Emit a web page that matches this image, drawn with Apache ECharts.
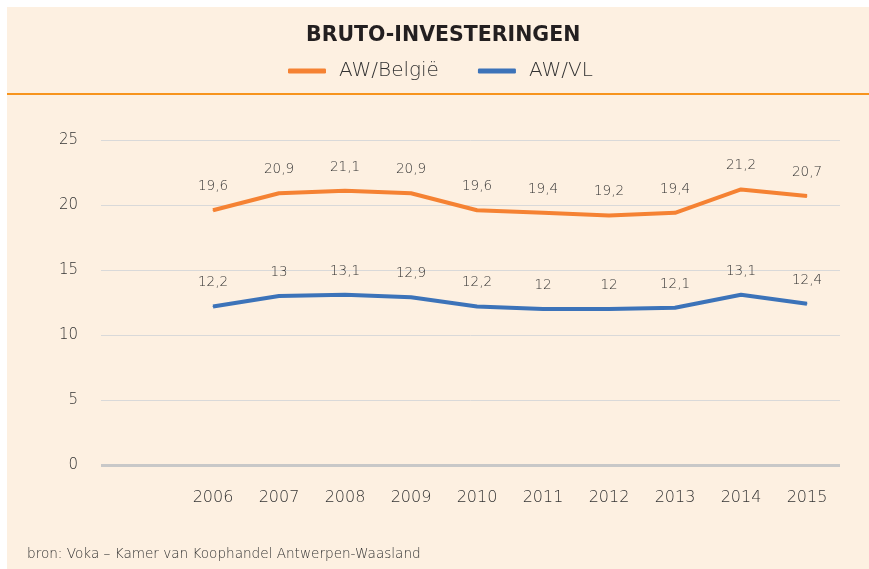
<!DOCTYPE html>
<html>
<head>
<meta charset="utf-8">
<script src="https://cdn.jsdelivr.net/npm/echarts@6/dist/echarts.min.js"></script>
<style>
    body { margin: 0; background: #fff; }
    #chart { width: 869px; height: 569px; }
</style>
</head>
<body>
<div id="chart"></div>
<script>
    // data
    var years = ['2006', '2007', '2008', '2009', '2010', '2011', '2012', '2013', '2014', '2015'];
    var awBelgie = [19.6, 20.9, 21.1, 20.9, 19.6, 19.4, 19.2, 19.4, 21.2, 20.7];
    var awVL = [12.2, 13, 13.1, 12.9, 12.2, 12, 12, 12.1, 13.1, 12.4];
    var seriesNames = ['AW/België', 'AW/VL'];

    var txt = '#333';
    var font = '"DejaVu Sans", sans-serif';

    function comma(p) {
        return String(p.value).replace('.', ',');
    }

    var chart = echarts.init(document.getElementById('chart'));
    chart.setOption({
        animation: false,
        textStyle: { fontFamily: font, fontWeight: 200 },
        graphic: [
            // achtergrondpaneel + oranje scheidingslijn
            { type: 'rect', z: -10, shape: { x: 7, y: 7, width: 862, height: 562 }, style: { fill: '#fdf0e1' } },
            { type: 'rect', z: -9, shape: { x: 7, y: 93, width: 862, height: 2 }, style: { fill: '#f7941d' } },
            { type: 'text', left: 27, top: 547,
              style: { text: 'bron: Voka \u2013 Kamer van Koophandel Antwerpen-Waasland', fill: '#333', font: '200 13.6px ' + font } }
        ],
        title: {
            text: 'BRUTO-INVESTERINGEN',
            left: 301,
            top: 20,
            textStyle: { fontSize: 20.5, fontWeight: 'bold', color: '#231f20', fontFamily: font }
        },
        legend: {
            data: seriesNames,
            top: 61,
            left: 288,
            padding: 0,
            itemGap: 39,
            itemWidth: 38,
            itemHeight: 5,
            icon: 'roundRect',
            textStyle: { fontSize: 20, color: txt, fontWeight: 200, padding: [0, 0, 0, 8] }
        },
        grid: [
            { left: 101, right: 29, top: 140, bottom: 104 },
            { left: 180, right: 29, top: 140, bottom: 104 }
        ],
        xAxis: [
            { gridIndex: 0, type: 'category', data: [''], show: false },
            {
                gridIndex: 1, type: 'category', data: years,
                axisLine: { show: false },
                axisTick: { show: false },
                axisLabel: { color: txt, fontSize: 16, fontWeight: 200, margin: 25 }
            }
        ],
        yAxis: [
            {
                gridIndex: 0, type: 'value', min: 0, max: 25, interval: 5,
                axisLine: { show: false },
                axisTick: { show: false },
                axisLabel: { color: txt, fontSize: 15, fontWeight: 200, margin: 23, padding: [4, 0, 0, 0] },
                splitLine: { lineStyle: { color: '#d9d9d9', width: 1 } }
            },
            { gridIndex: 1, type: 'value', min: 0, max: 25, interval: 5, show: false, splitLine: { show: false } }
        ],
        series: [
            {
                name: seriesNames[0], type: 'line', xAxisIndex: 1, yAxisIndex: 1,
                data: awBelgie, symbol: 'circle', symbolSize: 1, showSymbol: true,
                itemStyle: { color: '#f58233' },
                lineStyle: { color: '#f58233', width: 4 },
                label: { show: true, position: 'top', distance: 16, color: txt, fontSize: 13.5, fontWeight: 200, formatter: comma }
            },
            {
                name: seriesNames[1], type: 'line', xAxisIndex: 1, yAxisIndex: 1,
                data: awVL, symbol: 'circle', symbolSize: 1, showSymbol: true,
                itemStyle: { color: '#3c73b9' },
                lineStyle: { color: '#3c73b9', width: 4 },
                label: { show: true, position: 'top', distance: 16, color: txt, fontSize: 13.5, fontWeight: 200, formatter: comma }
            },
            {
                // nul-lijn iets dikker
                type: 'line', xAxisIndex: 0, yAxisIndex: 0, data: [], silent: true,
                markLine: {
                    symbol: 'none', silent: true, label: { show: false },
                    lineStyle: { color: '#c8c8c8', width: 3, type: 'solid' },
                    data: [{ yAxis: 0 }]
                }
            }
        ]
    });
</script>
</body>
</html>
